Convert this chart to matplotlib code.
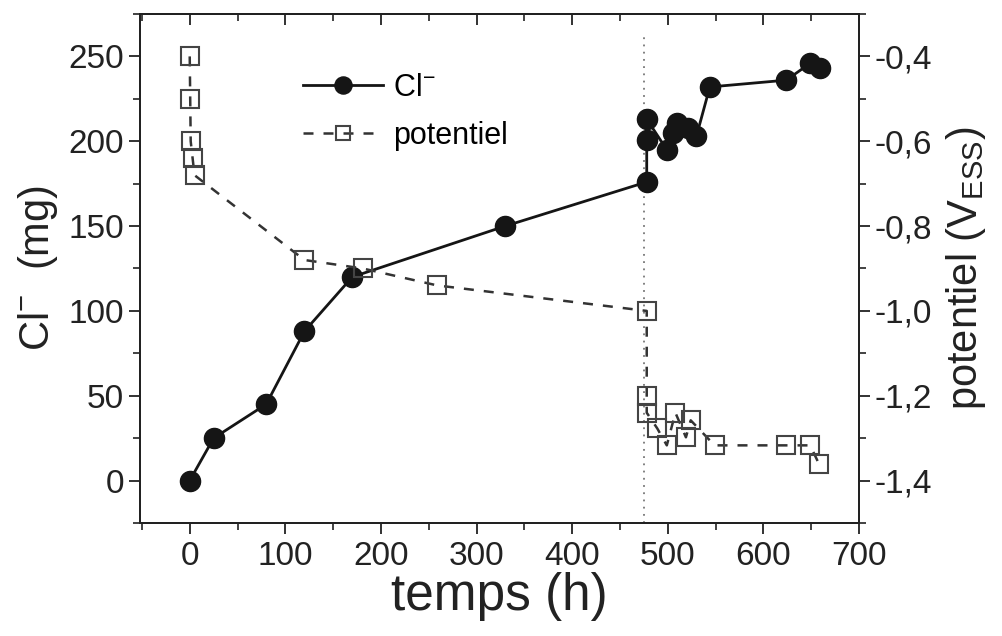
import numpy as np
import matplotlib.pyplot as plt
from matplotlib.ticker import MultipleLocator, FuncFormatter

plt.rcParams['font.family'] = ['Liberation Sans', 'DejaVu Sans']
plt.rcParams['mathtext.fontset'] = 'custom'
plt.rcParams['mathtext.rm'] = 'Liberation Sans'

# Cl- released (mg) vs time (h)
t_cl = [0, 25, 80, 120, 170, 330, 478, 478, 478, 499, 505, 510, 521, 530, 544, 624, 649, 659]
cl = [0, 25, 45, 88, 120, 150, 176, 201, 213, 195, 205, 211, 208, 203, 232, 236, 246, 243]

# potential (V_ESS) vs time (h)
t_pot = [0, 0.5, 1, 3, 5, 120, 181, 259, 478, 478, 478, 489, 499, 508, 519, 524, 549, 624, 649, 658]
pot = [-0.40, -0.50, -0.60, -0.64, -0.68, -0.88, -0.90, -0.94, -1.00, -1.20, -1.24, -1.277,
       -1.317, -1.24, -1.298, -1.258, -1.317, -1.317, -1.317, -1.36]

t_mark = 475

fig = plt.figure(figsize=(10.03, 6.36), dpi=100)
ax = fig.add_axes([0.1396, 0.1777, 0.7168, 0.8003])
ax2 = ax.twinx()

ax.axvline(t_mark, ymin=0.0, ymax=0.96, color='#777777', ls=(0, (1, 3)), lw=1.3)

l1, = ax.plot(t_cl, cl, color='#151515', lw=2.0, marker='o', ms=14.5,
              mfc='#151515', mec='#151515', label=r'Cl$^{\mathregular{-}}$')
l2, = ax2.plot(t_pot, pot, color='#333333', lw=1.8, ls=(0, (4, 4)), marker='s', ms=12.5,
               mfc='none', mec='#444444', mew=1.5, label='potentiel')

ax.set_xlim(-52, 700)
ax.set_ylim(-25, 275)
ax2.set_ylim(-1.5, -0.3)

ax.xaxis.set_major_locator(MultipleLocator(100))
ax.xaxis.set_minor_locator(MultipleLocator(50))
ax.yaxis.set_major_locator(MultipleLocator(50))
ax.yaxis.set_minor_locator(MultipleLocator(25))
ax2.yaxis.set_major_locator(MultipleLocator(0.2))
ax2.yaxis.set_minor_locator(MultipleLocator(0.1))
ax2.yaxis.set_major_formatter(FuncFormatter(lambda v, p: ('%.1f' % v).replace('.', ',')))

ax.tick_params(axis='both', which='major', labelsize=24, length=8, width=1.3, direction='out', colors='#222222')
ax.tick_params(axis='both', which='minor', length=5, width=1.2, direction='out', colors='#222222')
ax.tick_params(axis='x', pad=5)
ax2.tick_params(axis='y', which='major', labelsize=24, length=8, width=1.3, direction='out', colors='#222222')
ax2.tick_params(axis='y', which='minor', length=5, width=1.2, direction='out', colors='#222222')

# top ticks point inward
secx = ax.secondary_xaxis('top')
secx.xaxis.set_major_locator(MultipleLocator(100))
secx.xaxis.set_minor_locator(MultipleLocator(50))
secx.tick_params(which='major', direction='in', length=8, width=1.3, labeltop=False, colors='#222222')
secx.tick_params(which='minor', direction='in', length=5, width=1.2, colors='#222222')

for a in (ax, ax2):
    for s in a.spines.values():
        s.set_linewidth(1.4)
        s.set_color('#222222')
secx.spines['top'].set_linewidth(1.4)

ax.set_xlabel('temps (h)', fontsize=37, labelpad=0, color='#222222')
ax.set_ylabel(r'Cl$^{\mathregular{-}}$  (mg)', fontsize=30, labelpad=6, color='#222222')
ax2.set_ylabel(r'potentiel (V$_{\mathregular{ESS}}$)', fontsize=30, labelpad=8, color='#222222')

fig.legend(handles=[l1, l2], loc='upper left', bbox_to_anchor=(0.287, 0.91),
           frameon=False, fontsize=22, handlelength=2.6, handletextpad=0.35,
           labelspacing=0.6, borderpad=0, markerscale=0.85)

fig.savefig('out.png', dpi=100)
